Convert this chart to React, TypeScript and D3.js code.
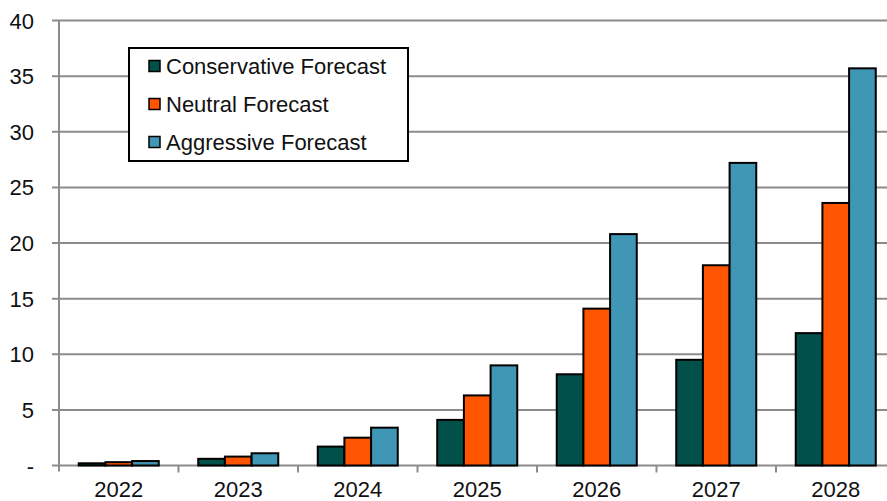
import React from "react";
import * as d3 from "d3";

const years = ["2022", "2023", "2024", "2025", "2026", "2027", "2028"];
const seriesNames = ["Conservative Forecast", "Neutral Forecast", "Aggressive Forecast"];
const conservative = [0.2, 0.6, 1.7, 4.1, 8.2, 9.5, 11.9];
const neutral = [0.3, 0.8, 2.5, 6.3, 14.1, 18.0, 23.6];
const aggressive = [0.4, 1.1, 3.4, 9.0, 20.8, 27.2, 35.7];
const yTicks = [0, 5, 10, 15, 20, 25, 30, 35, 40];
const colors = ["#02504a", "#ff5500", "#4096b5"];

const W = 887;
const H = 501;
const FONT = "'Liberation Sans', Arial, sans-serif";

export default function App() {
  const values = [conservative, neutral, aggressive];
  const x = d3.scaleBand<string>().domain(years).range([59, 59 + 7 * 119.5]).padding(0);
  const inner = d3
    .scaleBand<string>()
    .domain(seriesNames)
    .range([0, x.bandwidth()])
    .paddingInner(0)
    .paddingOuter(0.74);
  const y = d3.scaleLinear().domain([0, 40]).range([465.5, 20.5]);

  const legendRows = [66, 104, 142];

  return (
    <svg
      width={W}
      height={H}
      style={{ position: "absolute", left: 0, top: 0, display: "block", background: "#fff" }}
    >
      {/* horizontal gridlines with left tick marks */}
      {yTicks.map((t) => (
        <line key={"g" + t} x1={52} x2={W} y1={y(t)} y2={y(t)} stroke="#8c8c8c" strokeWidth={2} />
      ))}
      {/* y axis */}
      <line x1={59} x2={59} y1={y(40)} y2={y(0) + 6} stroke="#8c8c8c" strokeWidth={2} />
      {/* x ticks at band boundaries */}
      {years.map((yr) => (
        <line
          key={"t" + yr}
          x1={(x(yr) as number) + x.bandwidth()}
          x2={(x(yr) as number) + x.bandwidth()}
          y1={y(0)}
          y2={y(0) + 7}
          stroke="#8c8c8c"
          strokeWidth={2}
        />
      ))}
      {/* y labels */}
      {yTicks.map((t) => (
        <text
          key={"l" + t}
          x={34}
          y={y(t) + 8}
          textAnchor="end"
          fontFamily={FONT}
          fontSize={22}
          fill="#111"
        >
          {t === 0 ? "-" : t}
        </text>
      ))}
      {/* bars */}
      {years.map((yr, i) =>
        seriesNames.map((s, j) => {
          const v = values[j][i];
          const bx = (x(yr) as number) + (inner(s) as number);
          return (
            <rect
              key={yr + s}
              x={bx}
              y={y(v)}
              width={inner.bandwidth()}
              height={y(0) - y(v)}
              fill={colors[j]}
              stroke="#000"
              strokeWidth={2}
            />
          );
        })
      )}
      {/* x labels */}
      {years.map((yr) => (
        <text
          key={"x" + yr}
          x={(x(yr) as number) + x.bandwidth() / 2}
          y={497}
          textAnchor="middle"
          fontFamily={FONT}
          fontSize={22}
          fill="#111"
        >
          {yr}
        </text>
      ))}
      {/* legend */}
      <rect x={129} y={48} width={279} height={113} fill="#fff" stroke="#000" strokeWidth={2} />
      {seriesNames.map((s, j) => (
        <g key={"lg" + s}>
          <rect
            x={149}
            y={legendRows[j] - 5.5}
            width={11}
            height={11}
            fill={colors[j]}
            stroke="#000"
            strokeWidth={1.5}
          />
          <text x={166} y={legendRows[j] + 8} fontFamily={FONT} fontSize={22} fill="#111">
            {s}
          </text>
        </g>
      ))}
    </svg>
  );
}
